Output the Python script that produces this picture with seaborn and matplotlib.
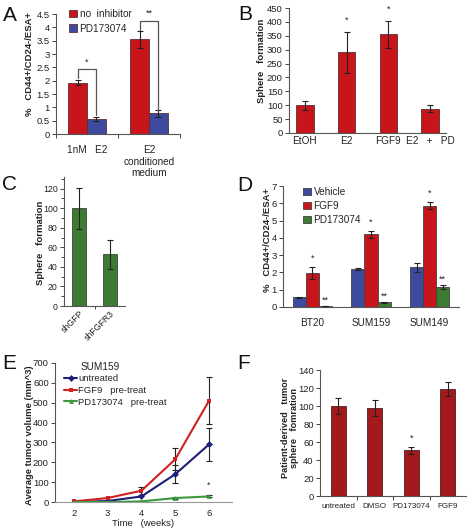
import matplotlib
matplotlib.use("Agg")
import matplotlib.pyplot as plt
from matplotlib.ticker import MultipleLocator, FixedLocator, FuncFormatter
import seaborn as sns
import pandas as pd

# ---------------- data ----------------
A_groups = ["1nM   E2", "E2\nconditioned\nmedium"]
A_series = ["no  inhibitor", "PD173074"]
A_no_inhibitor = [1.93, 3.55]
A_no_inhibitor_err = [0.08, 0.33]
A_pd173074 = [0.55, 0.77]
A_pd173074_err = [0.07, 0.13]
A_stars = ["*", "**"]

B_categories = ["EtOH", "E2", "FGF9", "E2   +   PD"]
B_values = [100, 290, 355, 88]
B_err = [17, 73, 50, 14]
B_stars = ["", "*", "*", ""]

C_categories = ["shGFP", "shFGFR3"]
C_values = [100, 53]
C_err = [21, 15]

D_lines = ["BT20", "SUM159", "SUM149"]
D_series = ["Vehicle", "FGF9", "PD173074"]
D_vehicle = [0.55, 2.2, 2.3]
D_vehicle_err = [0.05, 0.07, 0.27]
D_fgf9 = [1.95, 4.2, 5.85]
D_fgf9_err = [0.35, 0.2, 0.2]
D_pd = [0.05, 0.27, 1.15]
D_pd_err = [0.02, 0.04, 0.12]

E_weeks = [2, 3, 4, 5, 6]
E_series = ["untreated", "FGF9   pre-treat", "PD173074   pre-treat"]
E_untreated = [0, 5, 28, 140, 290]
E_untreated_err = [0, 0, 0, 45, 85]
E_fgf9 = [3, 20, 57, 215, 510]
E_fgf9_err = [0, 0, 20, 55, 118]
E_pd = [0, 0, 3, 20, 28]
E_pd_err = [0, 0, 0, 5, 5]

F_categories = ["untreated", "DMSO", "PD173074", "FGF9"]
F_values = [100, 98, 51, 119]
F_err = [9, 9, 4, 8]
F_stars = ["", "", "*", ""]

# ---------------- style ----------------
sns.set_theme(style="ticks")
plt.rcParams['font.family'] = ['Liberation Sans', 'DejaVu Sans']

RED = "#C8141B"
BLUE = "#3E4A9E"
GREEN = "#3D7A32"
DARKRED = "#A3191C"
NAVY = "#1C1F78"
LRED = "#D0201F"
LGREEN = "#3C9A3C"
EDGE = "#5a3030"
TXT = "#222222"
TICK_FS = 6.8
LAB_FS = 6.8
XLAB_FS = 7.2

W, H = 472, 532
fig = plt.figure(figsize=(W / 100, H / 100), dpi=100)


def add_ax(l, r, t, b):
    return fig.add_axes([l / W, 1 - b / H, (r - l) / W, (b - t) / H])


def style(ax, box):
    sns.despine(ax=ax)
    for s in ("left", "bottom"):
        ax.spines[s].set_linewidth(0.8)
        ax.spines[s].set_color("#555555")
    ax.tick_params(axis="both", which="both", labelsize=TICK_FS, colors="#444444",
                   labelcolor=TXT, width=0.7, length=3, pad=1.5)
    ax.set_xlabel("")


def ylabel_at(ax, box, text, xpx, ypx, fs=LAB_FS):
    l, r, t, b = box
    ax.set_ylabel(text, fontsize=fs, fontweight="bold", color=TXT)
    ax.yaxis.set_label_coords((xpx - l) / (r - l), (b - ypx) / (b - t))
    ax.yaxis.label.set_va("center")
    ax.yaxis.label.set_ha("center")


def errbars(ax, container, errs, color="#222222"):
    xs = [p.get_x() + p.get_width() / 2 for p in container]
    ys = [p.get_height() for p in container]
    ax.errorbar(xs, ys, yerr=errs, fmt="none", ecolor=color, elinewidth=0.8,
                capsize=2.2, capthick=0.8, zorder=5)
    return xs, ys


def letter(x, y, s):
    fig.text(x / W, 1 - y / H, s, fontsize=15, ha="left", va="top", color="#111111")


gfmt = FuncFormatter(lambda v, p: f"{v:g}")

# ---------------- Panel A ----------------
boxA = (56, 180, 14, 134)
axA = add_ax(*boxA)
dfA = pd.DataFrame({
    "group": A_groups * 2,
    "cond": [A_series[0]] * 2 + [A_series[1]] * 2,
    "val": A_no_inhibitor + A_pd173074,
})
sns.barplot(data=dfA, x="group", y="val", hue="cond", palette=[RED, BLUE],
            width=0.6, errorbar=None, edgecolor=EDGE, linewidth=0.6, ax=axA,
            saturation=1)
xs0, _ = errbars(axA, axA.containers[0], A_no_inhibitor_err)
xs1, _ = errbars(axA, axA.containers[1], A_pd173074_err)
brackets = [(2.09, 0.71, 2.43), (3.9, 0.9, 4.25)]
for i, (yl, yr, yt) in enumerate(brackets):
    axA.plot([xs0[i], xs0[i], xs1[i], xs1[i]], [yl, yt, yt, yr], color="#555555",
             lw=0.9, clip_on=False, zorder=6)
    axA.text((xs0[i] + xs1[i]) / 2, yt + 0.1, A_stars[i], ha="center", va="bottom",
             fontsize=6.5, color=TXT, clip_on=False)
axA.set_xlim(-0.5, 1.5)
axA.set_ylim(0, 4.5)
axA.yaxis.set_major_locator(MultipleLocator(0.5))
axA.yaxis.set_major_formatter(gfmt)
style(axA, boxA)
axA.xaxis.set_minor_locator(FixedLocator([-0.5, 0.5, 1.5]))
axA.tick_params(axis="x", which="major", length=0, labelsize=XLAB_FS, pad=8)
axA.tick_params(axis="x", which="minor", length=3)
for lbl in axA.get_xticklabels():
    lbl.set_linespacing(1.2)
    lbl.set_va("top")
ylabel_at(axA, boxA, "%   CD44+/CD24-/ESA+", 30, 64)
axA.legend(loc="upper left", bbox_to_anchor=((69 - 56) / 124, (134 - 9) / 120),
           frameon=False, fontsize=XLAB_FS, handlelength=0.75, handleheight=0.75,
           handletextpad=0.3, labelspacing=0.45, borderpad=0, borderaxespad=0)
letter(3, 6, "A")

# ---------------- Panel B ----------------
boxB = (289, 446, 8, 133)
axB = add_ax(*boxB)
sns.barplot(x=B_categories, y=B_values, color=RED, width=0.42, errorbar=None,
            edgecolor=EDGE, linewidth=0.6, ax=axB, saturation=1)
xsB, _ = errbars(axB, axB.containers[0], B_err)
for x, v, e, s in zip(xsB, B_values, B_err, B_stars):
    if s:
        axB.text(x, v + e + 25, s, ha="center", va="bottom", fontsize=6.5, color=TXT,
                 clip_on=False)
axB.set_ylim(0, 450)
axB.yaxis.set_major_locator(MultipleLocator(50))
style(axB, boxB)
axB.tick_params(axis="x", length=0, labelsize=XLAB_FS, pad=2)
ylabel_at(axB, boxB, "Sphere   formation", 261, 61)
letter(238, 5, "B")

# ---------------- Panel C ----------------
boxC = (64, 125, 177, 306)
axC = add_ax(*boxC)
sns.barplot(x=C_categories, y=C_values, color=GREEN, width=0.46, errorbar=None,
            edgecolor="#404040", linewidth=0.6, ax=axC, saturation=1)
errbars(axC, axC.containers[0], C_err)
axC.set_xlim(-0.5, 1.5)
axC.set_ylim(0, 132)
axC.yaxis.set_major_locator(MultipleLocator(20))
axC.yaxis.set_minor_locator(MultipleLocator(10))
style(axC, boxC)
axC.tick_params(axis="y", which="minor", length=2)
axC.tick_params(axis="y", which="major", labelsize=6.3)
axC.xaxis.set_minor_locator(FixedLocator([0.5]))
axC.tick_params(axis="x", which="major", length=0, labelsize=6.3, pad=2)
axC.tick_params(axis="x", which="minor", length=2)
for lbl in axC.get_xticklabels():
    lbl.set_rotation(45)
    lbl.set_ha("right")
    lbl.set_rotation_mode("anchor")
ylabel_at(axC, boxC, "Sphere   formation", 40, 243)
letter(2, 175, "C")

# ---------------- Panel D ----------------
boxD = (283, 459, 186, 307)
axD = add_ax(*boxD)
dfD = pd.DataFrame({
    "line": D_lines * 3,
    "cond": [D_series[0]] * 3 + [D_series[1]] * 3 + [D_series[2]] * 3,
    "val": D_vehicle + D_fgf9 + D_pd,
})
sns.barplot(data=dfD, x="line", y="val", hue="cond", palette=[BLUE, RED, GREEN],
            width=0.67, errorbar=None, edgecolor="#404040", linewidth=0.6, ax=axD,
            saturation=1)
errbars(axD, axD.containers[0], D_vehicle_err)
xf, _ = errbars(axD, axD.containers[1], D_fgf9_err)
xp, _ = errbars(axD, axD.containers[2], D_pd_err)
for x, v, e in zip(xf, D_fgf9, D_fgf9_err):
    axD.text(x, v + e + 0.25, "*", ha="center", va="bottom", fontsize=6.5, color=TXT,
             clip_on=False)
for x, v, e in zip(xp, D_pd, D_pd_err):
    axD.text(x, v + e + 0.05, "**", ha="center", va="bottom", fontsize=6.5, color=TXT,
             clip_on=False)
axD.set_ylim(0, 7)
axD.set_xlim(-0.5, 2.5)
axD.yaxis.set_major_locator(MultipleLocator(1))
style(axD, boxD)
axD.tick_params(axis="x", length=0, labelsize=XLAB_FS, pad=8)
ylabel_at(axD, boxD, "%   CD44+/CD24-/ESA+", 267, 240)
axD.legend(loc="upper left", bbox_to_anchor=((303 - 283) / 176, (307 - 187) / 121),
           frameon=False, fontsize=XLAB_FS, handlelength=0.75, handleheight=0.75,
           handletextpad=0.3, labelspacing=0.4, borderpad=0, borderaxespad=0)
letter(237, 176, "D")

# ---------------- Panel E ----------------
boxE = (55, 232, 363, 502)
axE = add_ax(*boxE)
dfE = pd.DataFrame({
    "week": E_weeks * 3,
    "vol": E_untreated + E_fgf9 + E_pd,
    "grp": [E_series[0]] * 5 + [E_series[1]] * 5 + [E_series[2]] * 5,
})
pal = [NAVY, LRED, LGREEN]
sns.lineplot(data=dfE, x="week", y="vol", hue="grp", style="grp",
             markers=["D", "s", "^"], dashes=False, palette=pal, ax=axE,
             linewidth=1.5, markersize=3.5, markeredgewidth=0, legend=True)
for vals, errs in [(E_untreated, E_untreated_err), (E_fgf9, E_fgf9_err),
                   (E_pd, E_pd_err)]:
    xs = [w for w, e in zip(E_weeks, errs) if e > 0]
    ys = [v for v, e in zip(vals, errs) if e > 0]
    es = [e for e in errs if e > 0]
    axE.errorbar(xs, ys, yerr=es, fmt="none", ecolor="#222222", elinewidth=0.8,
                 capsize=2.2, capthick=0.8, zorder=1)
axE.text(6, 60, "*", ha="center", va="bottom", fontsize=6.5, color=TXT)
axE.set_xlim(1.44, 6.68)
axE.set_ylim(0, 700)
axE.xaxis.set_major_locator(FixedLocator(E_weeks))
axE.yaxis.set_major_locator(MultipleLocator(100))
style(axE, boxE)
axE.tick_params(axis="x", length=0, pad=5)
axE.spines["bottom"].set_color("#999999")
axE.set_xlabel("Time   (weeks)", fontsize=TICK_FS, color=TXT, labelpad=1)
ylabel_at(axE, boxE, "Average tumor volume (mm^3)", 29, 435)
axE.text((81 - 55) / 177, (502 - 367) / 139, "SUM159", transform=axE.transAxes,
         fontsize=XLAB_FS, ha="left", va="center", color=TXT)
handles, labels = axE.get_legend_handles_labels()
axE.legend(handles, labels, loc="upper left",
           bbox_to_anchor=((64 - 55) / 177, (502 - 374) / 139), frameon=False,
           fontsize=TICK_FS, handlelength=1.4, handletextpad=0.1, labelspacing=0.3,
           borderpad=0, borderaxespad=0)
letter(2, 354, "E")

# ---------------- Panel F ----------------
boxF = (320, 466, 370, 496)
axF = add_ax(*boxF)
sns.barplot(x=F_categories, y=F_values, color=DARKRED, width=0.41, errorbar=None,
            edgecolor="#4a2020", linewidth=0.6, ax=axF, saturation=1)
xsF, _ = errbars(axF, axF.containers[0], F_err)
for x, v, e, s in zip(xsF, F_values, F_err, F_stars):
    if s:
        axF.text(x, v + e + 4, s, ha="center", va="bottom", fontsize=6.5, color=TXT)
axF.set_xlim(-0.5, 3.5)
axF.set_ylim(0, 140)
axF.yaxis.set_major_locator(MultipleLocator(20))
style(axF, boxF)
axF.xaxis.set_minor_locator(FixedLocator([0.5, 1.5, 2.5]))
axF.tick_params(axis="x", which="major", length=0, labelsize=5.8, pad=5)
axF.tick_params(axis="x", which="minor", length=3)
ylabel_at(axF, boxF, "Patient-derived   tumor\nsphere   fomration", 290, 428, fs=6.6)
axF.yaxis.label.set_linespacing(1.0)
letter(237, 354, "F")

fig.savefig("out.png", dpi=100)
